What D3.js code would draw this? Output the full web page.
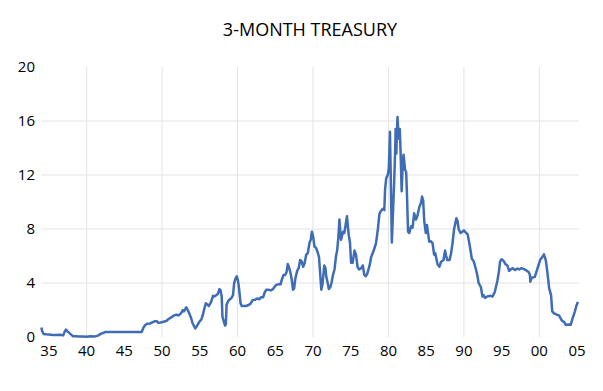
<!DOCTYPE html>
<html><head><meta charset="utf-8">
<script src="https://cdn.jsdelivr.net/npm/d3@7"></script>
<style>body{margin:0;background:#fff}svg{display:block}</style>
</head><body>
<svg id="c" width="603" height="391"></svg>
<script>
const title = "3-MONTH TREASURY";
const yTicks = [0, 4, 8, 12, 16, 20];
const xLabelYears = [1935,1940,1945,1950,1955,1960,1965,1970,1975,1980,1985,1990,1995,2000,2005];
const xGridYears = [1940,1950,1960,1970,1980,1990,2000];
const years = [1934.0,1934.1,1934.3,1934.6,1935.0,1935.5,1936.0,1936.5,1936.9,1937.1,1937.25,1937.5,1937.8,1938.2,1938.6,1939.0,1939.5,1940.0,1940.5,1941.0,1941.5,1941.9,1942.2,1942.5,1943,1944,1945,1946,1947.3,1947.5,1947.7,1948.0,1948.4,1948.7,1949.0,1949.3,1949.5,1949.8,1950.2,1950.6,1950.9,1951.2,1951.6,1951.9,1952.2,1952.5,1952.75,1952.9,1953.2,1953.4,1953.6,1953.85,1954.05,1954.4,1954.6,1954.95,1955.2,1955.4,1955.6,1955.8,1956.0,1956.2,1956.5,1956.75,1956.9,1957.2,1957.4,1957.6,1957.75,1957.9,1958.0,1958.2,1958.35,1958.45,1958.55,1958.8,1959.0,1959.2,1959.4,1959.55,1959.75,1959.9,1960.05,1960.2,1960.4,1960.55,1960.8,1961.1,1961.4,1961.7,1962.0,1962.3,1962.6,1962.9,1963.1,1963.4,1963.6,1963.8,1964.1,1964.4,1964.7,1965.1,1965.4,1965.7,1965.9,1966.1,1966.3,1966.5,1966.65,1966.8,1967.0,1967.2,1967.35,1967.5,1967.65,1967.9,1968.1,1968.3,1968.5,1968.7,1968.9,1969.1,1969.3,1969.55,1969.7,1969.85,1970.0,1970.2,1970.4,1970.6,1970.8,1970.95,1971.1,1971.25,1971.5,1971.65,1971.75,1971.95,1972.1,1972.3,1972.45,1972.65,1972.85,1973.05,1973.2,1973.35,1973.5,1973.6,1973.72,1973.85,1974.0,1974.15,1974.3,1974.5,1974.6,1974.75,1974.9,1975.05,1975.25,1975.5,1975.7,1975.9,1976.1,1976.4,1976.6,1976.8,1977.0,1977.2,1977.5,1977.7,1977.9,1978.1,1978.35,1978.6,1978.8,1978.95,1979.25,1979.45,1979.55,1979.7,1979.9,1980.05,1980.2,1980.3,1980.45,1980.55,1980.75,1980.9,1980.95,1981.05,1981.1,1981.2,1981.35,1981.5,1981.6,1981.75,1981.9,1982.0,1982.2,1982.35,1982.45,1982.6,1982.75,1983.0,1983.2,1983.4,1983.65,1983.85,1984.1,1984.3,1984.45,1984.6,1984.75,1984.95,1985.1,1985.4,1985.6,1985.85,1986.05,1986.2,1986.5,1986.75,1986.95,1987.3,1987.5,1987.65,1987.8,1988.1,1988.3,1988.5,1988.7,1989.0,1989.15,1989.3,1989.55,1989.8,1990.0,1990.3,1990.5,1990.7,1990.85,1991.05,1991.3,1991.6,1991.8,1991.95,1992.25,1992.45,1992.6,1992.8,1993.1,1993.5,1993.8,1994.1,1994.45,1994.65,1994.8,1995.0,1995.3,1995.5,1995.75,1996.0,1996.2,1996.45,1996.8,1997.1,1997.35,1997.6,1997.9,1998.2,1998.6,1998.75,1998.8,1999.0,1999.4,1999.75,2000.1,2000.35,2000.6,2000.85,2001.05,2001.3,2001.55,2001.7,2001.95,2002.3,2002.6,2002.8,2003.0,2003.3,2003.5,2003.9,2004.15,2004.4,2004.7,2004.9,2005.1];
const rates = [0.70,0.45,0.22,0.20,0.18,0.15,0.14,0.17,0.12,0.40,0.55,0.40,0.25,0.06,0.05,0.03,0.04,0.02,0.05,0.03,0.10,0.25,0.30,0.37,0.375,0.375,0.375,0.375,0.375,0.65,0.85,0.98,1.0,1.08,1.16,1.17,1.05,1.08,1.13,1.2,1.35,1.45,1.6,1.65,1.6,1.75,2.0,1.9,2.2,2.0,1.75,1.4,1.0,0.64,0.8,1.14,1.3,1.63,2.1,2.5,2.4,2.3,2.6,3.05,3.0,3.1,3.2,3.55,3.45,3.0,1.5,1.1,0.85,0.95,2.4,2.7,2.8,2.9,3.1,4.0,4.35,4.5,4.2,3.6,2.5,2.3,2.3,2.3,2.35,2.45,2.74,2.75,2.85,2.8,2.94,2.95,3.3,3.5,3.5,3.45,3.55,3.85,3.9,3.9,4.3,4.6,4.6,4.8,5.4,5.2,4.8,4.2,3.5,3.6,4.3,4.9,5.1,5.7,5.6,5.2,5.5,6.1,6.2,7.0,7.2,7.8,7.5,6.7,6.6,6.3,5.9,4.7,3.5,3.9,5.3,5.1,4.5,4.0,3.55,3.7,4.0,4.6,5.0,6.0,6.4,7.3,8.7,8.0,7.2,7.5,7.8,7.7,8.2,8.95,8.3,7.5,7.0,5.5,5.5,6.4,6.1,5.2,5.0,5.1,5.3,4.6,4.5,4.7,5.3,5.9,6.2,6.5,6.94,8.0,9.1,9.3,9.5,9.4,10.9,11.75,12.0,12.5,15.2,12.0,7.0,8.5,11.4,14.0,15.4,13.6,14.8,16.3,14.7,15.4,13.85,10.8,12.9,13.5,12.4,12.2,10.6,7.8,7.7,8.2,8.1,9.16,8.7,9.0,9.65,9.9,10.4,10.1,8.54,7.7,8.3,7.06,7.1,6.94,6.1,6.2,5.4,5.2,5.55,5.7,6.4,6.0,5.7,5.7,6.2,7.0,8.0,8.8,8.6,8.0,7.7,7.8,7.9,7.7,7.6,7.0,6.5,5.8,5.6,5.0,4.5,4.0,3.7,3.0,3.1,2.9,3.0,3.05,3.0,3.35,4.2,4.9,5.6,5.76,5.6,5.4,5.3,4.9,5.0,5.1,4.96,5.07,5.0,5.1,5.05,4.96,4.8,4.6,4.1,4.4,4.45,5.08,5.7,5.9,6.12,5.7,4.84,3.6,3.1,1.9,1.75,1.65,1.6,1.4,1.2,1.1,0.9,0.92,0.9,1.38,1.88,2.3,2.6];

const svg = d3.select("#c");
const font = "'Open Sans', sans-serif";
const x = d3.scaleLinear().domain([1935, 2005]).range([48.9, 577.1]);
const y = d3.scaleLinear().domain([0, 20]).range([337, 67]);
const left = 41, right = 579;

svg.append("text").attr("x", 310).attr("y", 36).attr("text-anchor", "middle")
  .attr("font-family", font).attr("font-size", 18).attr("fill", "#000").text(title);

// horizontal grid
svg.append("g").selectAll("line").data(yTicks.filter(d => d > 0 && d < 20)).join("line")
  .attr("x1", left).attr("x2", right).attr("y1", d => y(d)).attr("y2", d => y(d))
  .attr("stroke", "#e3e3e3").attr("stroke-width", 1);
// vertical grid
svg.append("g").selectAll("line").data(xGridYears).join("line")
  .attr("x1", d => x(d)).attr("x2", d => x(d)).attr("y1", y(20)).attr("y2", y(0))
  .attr("stroke", "#e3e3e3").attr("stroke-width", 1);

// y labels
svg.append("g").selectAll("text").data(yTicks).join("text")
  .attr("x", 35).attr("y", d => y(d) + 5).attr("text-anchor", "end")
  .attr("font-family", font).attr("font-size", 15).attr("fill", "#000").text(d => d);
// x labels
svg.append("g").selectAll("text").data(xLabelYears).join("text")
  .attr("x", d => x(d)).attr("y", 356).attr("text-anchor", "middle")
  .attr("font-family", font).attr("font-size", 15).attr("fill", "#000")
  .text(d => String(d % 100).padStart(2, "0"));

const pts = years.map((t, i) => [t, rates[i]]);
const line = d3.line().x(d => x(d[0])).y(d => y(d[1]));
svg.append("path").datum(pts).attr("d", line).attr("fill", "none")
  .attr("stroke", "#3f6cb6").attr("stroke-width", 2.5).attr("stroke-linejoin", "round");
</script>
</body></html>
